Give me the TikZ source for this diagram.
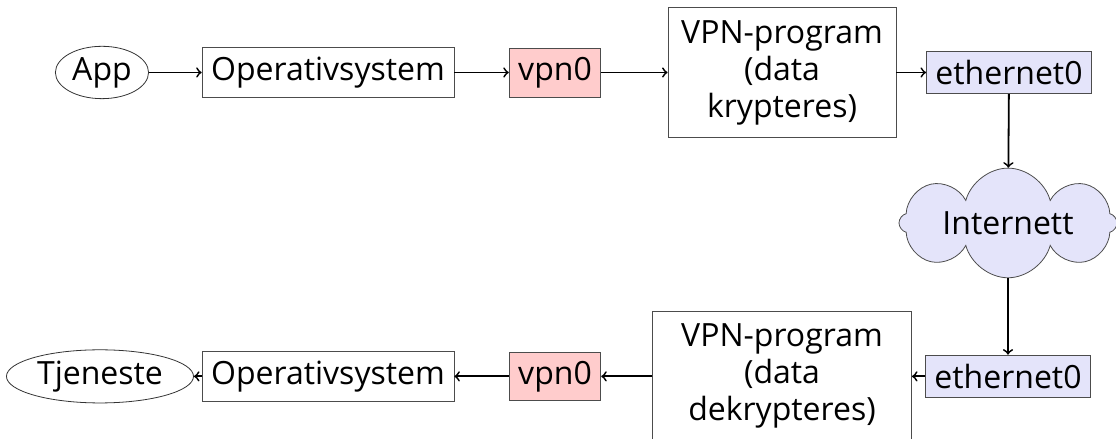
\documentclass[tikz,border=0pt]{standalone}
\usepackage{fontspec}
\setmainfont{Open Sans}
\usepackage{tikz}
\usetikzlibrary{shapes.geometric,shapes.symbols}

\definecolor{vpnred}{RGB}{255,204,204}
\definecolor{ethblue}{RGB}{228,228,250}

\begin{document}
\begin{tikzpicture}[
  every node/.style = {font = \fontsize{16}{18.5}\selectfont},
  box/.style = {draw = black!70, rectangle, inner xsep = 4.5pt, inner ysep = 4.5pt},
  prog/.style = {box, align = center, inner sep = 6pt, minimum height = 65pt},
  oval/.style = {draw = black!80, ellipse, inner sep = 1.6pt},
  link/.style = {->, line width = 0.9pt}
  ]
\useasboundingbox (0, 0) rectangle (19.611, 7.714);
\node (app) at (1.792, 6.44) [oval] {App};
\node (os1) at (5.764, 6.44) [box] {Operativsystem};
\node (vpn1) at (9.753, 6.44) [box, fill = vpnred] {vpn0};
\node (prog1) at (13.742, 6.44) [prog, minimum width = 114pt] {VPN-program\\(data\\krypteres)};
\node (eth1) at (17.731, 6.44) [box, fill = ethblue] {ethernet0};
\node (net) at (17.713, 3.796) [cloud, cloud puffs = 8, aspect = 3.1, draw = black!70,
  fill = ethblue, inner sep = 0pt, minimum width = 109pt, minimum height = 44pt] {Internett};
\node (eth2) at (17.713, 1.1) [box, fill = ethblue] {ethernet0};
\node (prog2) at (13.742, 1.1) [prog, minimum width = 129.5pt] {VPN-program\\(data\\dekrypteres)};
\node (vpn2) at (9.753, 1.1) [box, fill = vpnred] {vpn0};
\node (os2) at (5.764, 1.1) [box] {Operativsystem};
\node (tjen) at (1.757, 1.1) [oval] {Tjeneste};
\draw [link] (app) -- (os1);
\draw [link] (os1) -- (vpn1);
\draw [link] (vpn1) -- (prog1);
\draw [link] (prog1) -- (eth1);
\draw [link] (eth1) -- (net);
\draw [link] (net) -- (eth2);
\draw [link] (eth2) -- (prog2);
\draw [link] (prog2) -- (vpn2);
\draw [link] (vpn2) -- (os2);
\draw [link] (os2) -- (tjen);
\end{tikzpicture}
\end{document}
